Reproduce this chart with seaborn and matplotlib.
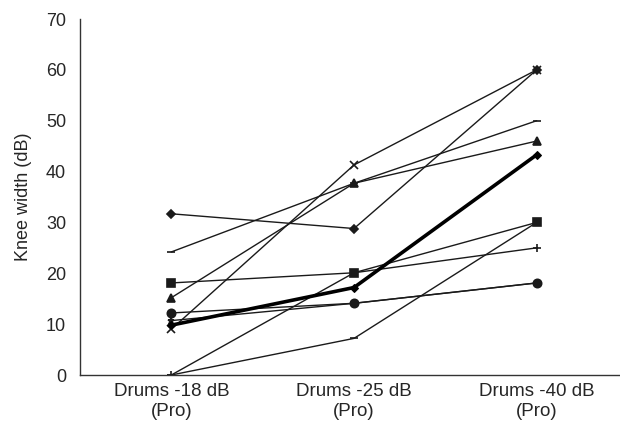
import matplotlib
matplotlib.use("Agg")
import matplotlib.pyplot as plt
import seaborn as sns
import pandas as pd

# conditions on the x axis
conditions = ["Drums -18 dB\n(Pro)", "Drums -25 dB\n(Pro)", "Drums -40 dB\n(Pro)"]

# knee width per listener (dB)
s_diamond = [31.7, 28.8, 60.0]
s_dash = [24.2, 37.7, 50.0]
s_square = [18.1, 20.1, 30.0]
s_triangle = [15.2, 37.7, 46.0]
s_circle = [12.2, 14.1, 18.1]
s_star = [10.7, 14.1, 18.1]
s_cross = [9.0, 41.3, 60.0]
s_plus = [0.0, 20.1, 25.0]
s_low = [0.0, 7.2, 30.0]
s_mean = [9.8, 17.2, 43.3]

series = [
    (s_diamond, "D", 4.5), (s_dash, "_", 6), (s_square, "s", 6), (s_triangle, "^", 6),
    (s_circle, "o", 6), (s_star, "*", 5), (s_cross, "x", 6), (s_plus, "+", 6),
    (s_low, "_", 6),
]

sns.set_style("white")
plt.rcParams["font.family"] = ["Liberation Sans", "DejaVu Sans"]

fig = plt.figure(figsize=(6.2, 4.25), dpi=100)
ax = fig.add_axes([80 / 620, 50 / 425, 548 / 620, 356 / 425])

pos = [0, 1, 2]
for vals, mk, ms in series:
    df = pd.DataFrame({"pos": pos, "val": vals})
    sns.lineplot(data=df, x="pos", y="val", ax=ax, color="#1a1a1a", linewidth=1.0,
                 marker=mk, markersize=ms,
                 markeredgecolor="#1a1a1a", markerfacecolor="#1a1a1a",
                 markeredgewidth=1.2)

df = pd.DataFrame({"pos": pos, "val": s_mean})
sns.lineplot(data=df, x="pos", y="val", ax=ax, color="black", linewidth=2.6,
             marker="D", markersize=4.5, markeredgecolor="black",
             markerfacecolor="black")

ax.set_xlim(-0.5, 2.5)
ax.set_ylim(0, 70)
ax.set_yticks(range(0, 71, 10))
ax.set_xticks([-0.5, 0.5, 1.5, 2.5])
ax.set_xticklabels([])
ax.set_xticks(pos, minor=True)
ax.set_xticklabels(conditions, minor=True, fontsize=13.5)
ax.tick_params(axis="x", which="minor", length=0, pad=6)
ax.tick_params(axis="x", which="major", length=4, width=0.8, color="#555555", direction="out")
ax.tick_params(axis="y", length=4, width=0.8, color="#555555", direction="out",
               labelsize=13, pad=6)
ax.set_xlabel("")
ax.set_ylabel("Knee width (dB)", fontsize=13, labelpad=10)

for side in ["top", "right"]:
    ax.spines[side].set_visible(False)
for side in ["left", "bottom"]:
    ax.spines[side].set_color("#333333")
    ax.spines[side].set_linewidth(1.0)

fig.savefig("out.png", dpi=100)
